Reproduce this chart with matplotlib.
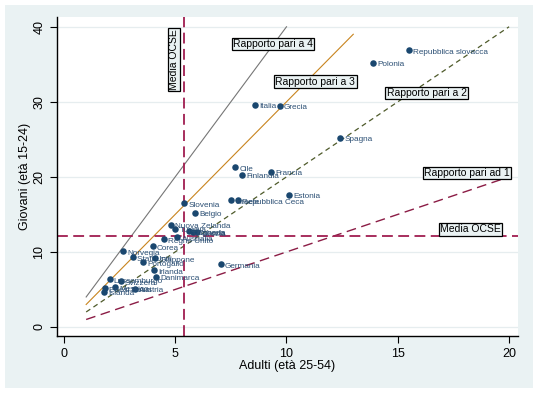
import matplotlib
matplotlib.use("Agg")
import matplotlib.pyplot as plt
from matplotlib.patches import Rectangle

plt.rcParams['font.family'] = ['Liberation Sans', 'DejaVu Sans']

# ---- data ----
countries = ["Repubblica slovacca", "Polonia", "Italia", "Grecia", "Spagna",
             "Cile", "Finlandia", "Francia", "Estonia", "Israele", "Repubblica Ceca",
             "Slovenia", "Belgio", "Nuova Zelanda", "Turchia", "Ungheria", "Canada",
             "Svezia", "Regno Unito", "Australia", "Corea", "Norvegia", "Stati Uniti",
             "Giappone", "Portogallo", "Irlanda", "Danimarca", "Germania",
             "Lussemburgo", "Svizzera", "Paesi Bassi", "Islanda", "Messico", "Austria"]
adulti = [15.5, 13.9, 8.6, 9.7, 12.4,
          7.7, 8.0, 9.3, 10.1, 7.5, 7.8,
          5.4, 5.9, 4.8, 5.0, 5.6, 5.8,
          6.0, 4.5, 5.1, 4.0, 2.65, 3.1,
          4.1, 3.55, 4.05, 4.15, 7.05,
          2.05, 2.55, 1.85, 1.8, 2.3, 3.2]
giovani = [36.9, 35.2, 29.6, 29.5, 25.2,
           21.3, 20.3, 20.7, 17.6, 16.9, 16.9,
           16.5, 15.2, 13.6, 13.1, 12.8, 12.7,
           12.6, 11.7, 12.0, 10.8, 10.1, 9.3,
           9.2, 8.6, 7.6, 6.7, 8.4,
           6.4, 6.1, 5.2, 4.7, 5.3, 5.1]

media_adulti = 5.4
media_giovani = 12.1

ratios = [4, 3, 2, 1]
ratio_xmax = [10, 13, 20, 20]
ratio_labels = ["Rapporto pari a 4", "Rapporto pari a 3", "Rapporto pari a 2", "Rapporto pari ad 1"]
ratio_label_pos = [(9.4, 37.7), (11.3, 32.7), (16.3, 31.2), (18.1, 20.5)]

xticks = [0, 5, 10, 15, 20]
yticks = [0, 10, 20, 30, 40]

# ---- figure ----
fig = plt.figure(figsize=(5.39, 3.94), dpi=100, facecolor="white")
fig.patches.append(Rectangle((5/539, 6/394), 528/539, 383/394, transform=fig.transFigure,
                             facecolor="#EAF2F3", edgecolor="none", zorder=-10))
ax = fig.add_axes([57/539, 1-336/394, (518-57)/539, (336-17)/394])
ax.set_facecolor("white")

ax.set_xlim(-0.31, 20.4)
ax.set_ylim(-1.2, 41.3)

for t in yticks:
    ax.axhline(t, color="#E6EDEF", lw=0.9, zorder=0)

styles = [dict(color="#767676", lw=0.8, ls="-"),
          dict(color="#C8841E", lw=0.8, ls="-"),
          dict(color="#4E5A2A", lw=0.9, ls=(0, (4, 3))),
          dict(color="#8B1C45", lw=1.0, ls=(0, (7, 4)))]
for r, xm, st in zip(ratios, ratio_xmax, styles):
    ax.plot([1, xm], [r * 1, r * xm], zorder=2, **st)

ax.axvline(media_adulti, color="#A01E50", lw=1.3, ls=(0, (6, 3)), zorder=2)
ax.axhline(media_giovani, color="#A01E50", lw=1.3, ls=(0, (6, 3)), zorder=2)

ax.scatter(adulti, giovani, s=22, color="#1A476F", zorder=4, linewidths=0)
for name, xv, yv in zip(countries, adulti, giovani):
    ax.annotate(name, (xv, yv), xytext=(3, -1.5), textcoords="offset points",
                fontsize=5.9, color="#2B4F74", va="center", ha="left", zorder=5)

box = dict(boxstyle="square,pad=0.12", facecolor="#EAF2F3", edgecolor="black", lw=0.9)
for lab, (lx, ly) in zip(ratio_labels, ratio_label_pos):
    ax.text(lx, ly, lab, fontsize=7.5, ha="center", va="center", bbox=box, zorder=6)
ax.text(18.25, 13.0, "Media OCSE", fontsize=7.5, ha="center", va="center", bbox=box, zorder=6)
ax.text(4.94, 35.6, "Media OCSE", fontsize=7.5, ha="center", va="center", rotation=90,
        bbox=box, zorder=6)

ax.set_xticks(xticks)
ax.set_yticks(yticks)
ax.tick_params(axis="both", direction="out", length=5, width=0.8, labelsize=9, colors="black")
for lbl in ax.get_yticklabels():
    lbl.set_rotation(90)
    lbl.set_va("center")
for s in ["top", "right"]:
    ax.spines[s].set_visible(False)
for s in ["left", "bottom"]:
    ax.spines[s].set_linewidth(1.0)

ax.set_xlabel("Adulti (età 25-54)", fontsize=9, labelpad=0)
ax.set_ylabel("Giovani (età 15-24)", fontsize=9, labelpad=1.5)

fig.savefig("out.png", dpi=100, facecolor=fig.get_facecolor())
